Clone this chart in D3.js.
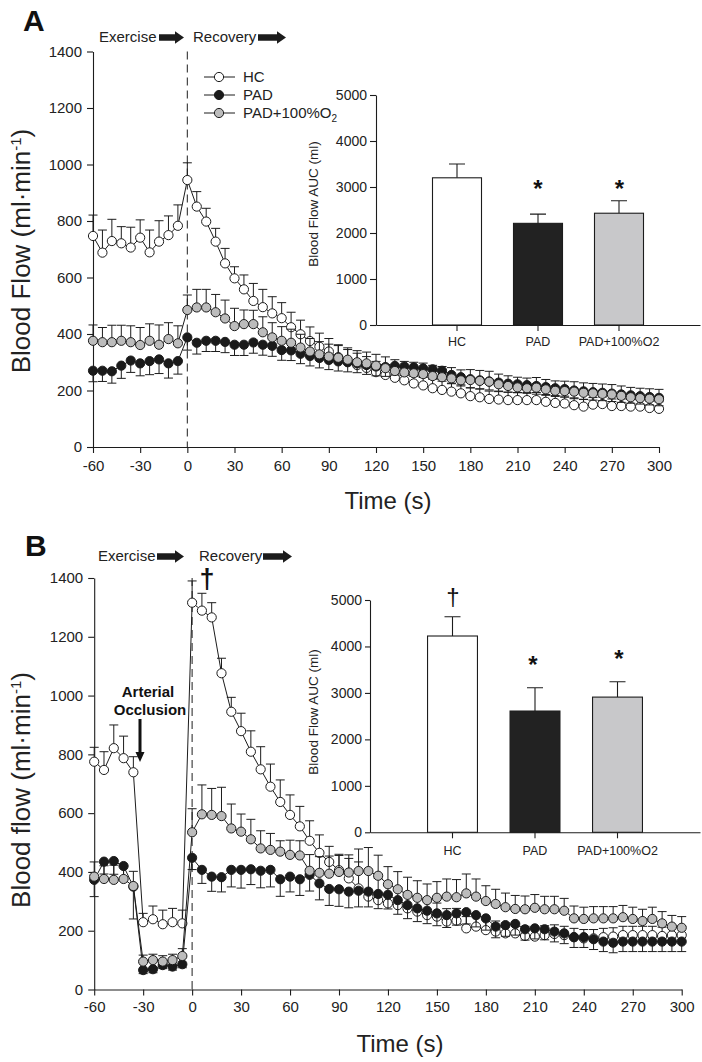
<!DOCTYPE html>
<html><head><meta charset="utf-8">
<script src="https://cdn.jsdelivr.net/npm/d3@7"></script>
<style>
body{margin:0;background:#fff;}
svg{display:block;font-family:"Liberation Sans",Arial,sans-serif;}
</style></head><body>
<svg id="c" width="702" height="1062"></svg>
<script>
// ---------------- DATA ----------------
const time = [-60,-54,-48,-42,-36,-30,-24,-18,-12,-6,0,6,12,18,24,30,36,42,48,54,60,66,72,78,84,90,96,102,108,114,120,126,132,138,144,150,156,162,168,174,180,186,192,198,204,210,216,222,228,234,240,246,252,258,264,270,276,282,288,294,300];
const xTicks = [-60,-30,0,30,60,90,120,150,180,210,240,270,300];
const yTicks = [0,200,400,600,800,1000,1200,1400];
const seriesNames = ["HC","PAD","PAD+100%O2"];

// Panel A (Blood Flow, ml/min)
const hcA = [747,688,729,721,706,741,689,727,750,783,945,
  851,798,727,650,597,558,517,495,473,456,
  424,399,375,355,338,318,302,290,280,265,
  255,245,236,225,218,208,202,196,190,180,
  176,170,168,166,166,166,166,160,156,154,
  148,143,150,152,145,145,143,143,138,135];
const hcAse = [74,80,77,59,72,63,79,74,68,74,61,
  53,47,47,53,41,51,62,63,59,55,
  53,50,50,48,46,44,43,42,40,38,
  37,36,35,34,33,32,31,30,30,29,
  29,28,28,28,27,27,27,26,26,26,
  26,25,25,25,25,25,25,25,25,25];
const padA = [270,270,268,288,306,296,304,310,296,304,388,
  369,376,376,372,362,362,370,362,358,343,
  342,330,322,315,308,303,300,296,290,285,
  283,287,285,282,278,275,270,255,247,240,
  236,232,228,224,222,219,216,212,208,205,
  200,197,194,192,189,186,183,180,177,174];
const padAse = [39,38,42,45,42,44,48,50,52,46,45,
  40,38,38,38,38,38,38,37,37,36,
  36,35,35,35,34,34,34,33,33,33,
  33,32,32,32,32,31,31,31,31,30,
  30,30,30,30,30,29,29,29,29,29,
  29,28,28,28,28,28,28,28,28,28];
const o2A = [376,371,371,376,371,361,376,362,382,367,485,
  494,494,477,455,428,435,435,406,388,376,
  369,352,338,328,320,316,309,300,296,288,
  279,269,264,261,258,251,247,243,236,237,
  234,231,222,216,211,208,210,204,199,198,
  196,192,190,188,186,181,176,173,171,169];
const o2Ase = [56,52,60,55,58,62,60,70,58,62,53,
  64,64,63,65,63,50,49,55,52,50,
  48,47,46,45,44,43,42,41,40,40,
  40,40,39,39,39,38,38,38,37,37,
  37,37,36,36,36,36,36,35,35,35,
  35,35,35,35,35,35,35,35,35,35];

// Panel B (Blood flow, ml/min) with arterial occlusion
const hcB = [775,747,821,787,739,229,239,222,229,225,1316,
  1289,1266,1076,945,879,809,749,690,638,594,
  555,506,465,434,406,378,344,316,304,293,
  287,276,265,253,248,231,234,208,214,202,
  197,191,191,182,180,185,189,185,178,174,
  174,178,180,185,185,185,185,182,185,185];
const hcBse = [49,62,79,75,53,30,45,48,47,45,74,
  59,50,51,49,61,71,77,77,75,68,
  68,68,61,53,50,68,90,85,75,65,
  60,55,50,48,46,44,42,40,40,38,
  36,35,34,33,32,32,31,30,30,30,
  30,30,30,30,30,30,30,30,30,30];
const padB = [373,435,437,420,350,66,69,83,78,86,448,
  407,384,382,407,407,409,404,407,375,384,
  375,390,361,342,341,333,336,333,325,322,
  304,287,276,268,259,253,259,263,253,242,
  214,219,223,205,208,205,197,191,178,178,
  171,163,159,163,163,163,163,163,163,163];
const padBse = [57,42,45,40,110,12,12,12,12,12,40,
  46,50,50,58,62,52,58,58,58,52,
  55,55,56,56,58,55,55,52,50,48,
  48,46,45,44,42,42,40,40,40,40,
  38,38,38,37,36,36,35,35,35,35,
  35,34,34,34,34,34,34,34,34,34];
const o2B = [384,376,373,376,352,95,100,95,100,114,535,
  596,594,590,548,537,511,480,475,469,458,
  456,404,397,394,400,398,403,403,387,358,
  341,322,312,304,312,316,314,327,316,301,
  291,280,274,273,278,273,273,268,242,240,
  242,242,242,246,240,233,240,225,214,210];
const o2Bse = [50,45,50,45,50,22,20,20,20,25,80,
  100,90,98,83,60,68,60,56,37,50,
  50,55,55,60,60,60,75,80,70,60,
  60,60,58,55,55,60,60,66,60,52,
  50,48,46,45,45,44,44,42,42,40,
  40,40,40,40,40,40,40,40,38,38];

// Insets: Blood Flow AUC (ml)
const aucCats = ["HC","PAD","PAD+100%O2"];
const aucTicks = [0,1000,2000,3000,4000,5000];
const aucA = [3200,2210,2430];
const aucAse = [300,200,270];
const aucAmarks = ["","*","*"];
const aucB = [4225,2610,2910];
const aucBse = [415,500,330];
const aucBmarks = ["\u2020","*","*"];

// ---------------- STYLE / LAYOUT ----------------
const INK = "#1c1c1c";
const fills = {HC:"#ffffff", PAD:"#1a1a1a", O2:"#bcbcbc"};
const barFills = ["#ffffff","#222222","#c8c8ca"];
const plainNum = d => String(d);
const svg = d3.select("#c");
svg.append("rect").attr("width",702).attr("height",1062).attr("fill","#fff");

const layout = {
  A: {x:[93,659], y:[447,51.5], letter:"A", letterPos:[23,31], ylabel:"Blood Flow", ylabPos:[30,251],
      headY:42, arrowY:37.5, exX:99, exArrow:[159,184], recX:193, recArrow:[258,286],
      timePos:[388,509], tickLabOff:13,
      inset:{x:[376,700], y:[325,95], labPos:[318,204], catLabY:346, tickSize:6, pad:3}},
  B: {x:[94.2,681.7], y:[989.5,578], letter:"B", letterPos:[25,556], ylabPos:[30,790], ylabel:"Blood flow",
      headY:561, arrowY:556.5, exX:98, exArrow:[157,184], recX:199, recArrow:[263,292],
      timePos:[400,1052], tickLabOff:12,
      inset:{x:[370,700], y:[832.3,600], labPos:[318,712], catLabY:855, tickSize:5, pad:3}}
};

function arrowRight(x0,x1,cy){
  const hl=9, sh=3.3, hh=6.2;
  svg.append("path").attr("fill",INK)
    .attr("d",`M${x0},${cy-sh}H${x1-hl}V${cy-hh}L${x1},${cy}L${x1-hl},${cy+hh}V${cy+sh}H${x0}Z`);
}

function drawPanel(L, data){
  const x = d3.scaleLinear().domain([-60,300]).range(L.x);
  const y = d3.scaleLinear().domain([0,1400]).range(L.y);
  const g = svg.append("g");

  const ax = g.append("g").attr("transform",`translate(0,${L.y[0]})`)
    .call(d3.axisBottom(x).tickValues(xTicks).tickFormat(plainNum).tickSize(6).tickSizeOuter(0).tickPadding(L.tickLabOff-6));
  const ay = g.append("g").attr("transform",`translate(${L.x[0]},0)`)
    .call(d3.axisLeft(y).tickValues(yTicks).tickFormat(plainNum).tickSize(6).tickSizeOuter(0).tickPadding(5));
  [ax,ay].forEach(a=>{
    a.selectAll("path,line").attr("stroke",INK).attr("stroke-width",1.1);
    a.selectAll("text").attr("fill","#222").style("font-size","15px").style("font-family","Liberation Sans, Arial, sans-serif");
  });

  g.append("line").attr("x1",x(0)).attr("x2",x(0)).attr("y1",y(1400)).attr("y2",y(0))
    .attr("stroke","#333").attr("stroke-width",1.1).attr("stroke-dasharray","8,5");

  data.forEach(s=>{
    const pts = time.map((t,i)=>({t, v:s.v[i], e:s.e[i]}));
    const sg = g.append("g");
    sg.selectAll("path.err").data(pts).enter().append("path").attr("class","err")
      .attr("fill","none").attr("stroke",INK).attr("stroke-width",1)
      .attr("d",d=>{const y0=y(d.v), y1=y(d.v + s.dir*d.e), xx=x(d.t);
        return `M${xx},${y0}V${y1}M${xx-4.5},${y1}H${xx+4.5}`;});
    sg.append("path").datum(pts).attr("fill","none").attr("stroke",INK).attr("stroke-width",1)
      .attr("d",d3.line().x(d=>x(d.t)).y(d=>y(d.v)));
    sg.selectAll("circle").data(pts).enter().append("circle")
      .attr("cx",d=>x(d.t)).attr("cy",d=>y(d.v)).attr("r",4.6)
      .attr("fill",s.fill).attr("stroke",INK).attr("stroke-width",1);
  });

  svg.append("text").attr("x",L.letterPos[0]).attr("y",L.letterPos[1]).text(L.letter)
    .style("font-size","30px").style("font-weight","bold").attr("fill","#111");
  const yl = svg.append("text").attr("transform",`translate(${L.ylabPos[0]},${L.ylabPos[1]}) rotate(-90)`)
    .attr("text-anchor","middle").style("font-size","26px").attr("fill","#222");
  yl.append("tspan").text(L.ylabel+" (ml\u00B7min");
  yl.append("tspan").attr("dy",-9).style("font-size","15px").text("-1");
  yl.append("tspan").attr("dy",9).text(")");
  svg.append("text").attr("x",L.timePos[0]).attr("y",L.timePos[1]).attr("text-anchor","middle")
    .style("font-size","24px").attr("fill","#222").text("Time (s)");

  svg.append("text").attr("x",L.exX).attr("y",L.headY).style("font-size","15px").attr("fill","#222").text("Exercise");
  arrowRight(L.exArrow[0],L.exArrow[1],L.arrowY);
  svg.append("text").attr("x",L.recX).attr("y",L.headY).style("font-size","15px").attr("fill","#222").text("Recovery");
  arrowRight(L.recArrow[0],L.recArrow[1],L.arrowY);
  return {x,y};
}

function drawInset(I, vals, ses, marks, markSpec){
  const x = d3.scaleBand().domain(aucCats).range(I.x).paddingInner(0.395).paddingOuter(0.6975);
  const y = d3.scaleLinear().domain([0,5000]).range(I.y);
  const g = svg.append("g");
  const ax = g.append("g").attr("transform",`translate(0,${I.y[0]})`)
    .call(d3.axisBottom(x).tickSize(6).tickSizeOuter(0).tickPadding(8));
  const ay = g.append("g").attr("transform",`translate(${I.x[0]},0)`)
    .call(d3.axisLeft(y).tickValues(aucTicks).tickFormat(plainNum).tickSize(I.tickSize).tickSizeOuter(0).tickPadding(I.pad));
  [ax,ay].forEach(a=>{
    a.selectAll("path,line").attr("stroke",INK).attr("stroke-width",1.1);
    a.selectAll("text").attr("fill","#222").style("font-family","Liberation Sans, Arial, sans-serif");
  });
  ay.selectAll("text").style("font-size","14px");
  ax.selectAll("text").style("font-size","12.5px").attr("dy",null)
    .attr("y",I.catLabY - I.y[0]);
  const rows = aucCats.map((c,i)=>({c,v:vals[i],e:ses[i],m:marks[i],i}));
  g.selectAll("path.eb").data(rows).enter().append("path").attr("class","eb")
    .attr("fill","none").attr("stroke",INK).attr("stroke-width",1.1)
    .attr("d",d=>{const cx=x(d.c)+x.bandwidth()/2, y0=y(d.v), y1=y(d.v+d.e);
      return `M${cx},${y0}V${y1}M${cx-8},${y1}H${cx+8}`;});
  g.selectAll("rect.bar").data(rows).enter().append("rect").attr("class","bar")
    .attr("x",d=>x(d.c)).attr("width",x.bandwidth())
    .attr("y",d=>y(d.v)).attr("height",d=>y(0)-y(d.v))
    .attr("fill",d=>barFills[d.i]).attr("stroke",INK).attr("stroke-width",1.1);
  rows.forEach(d=>{
    if(!d.m) return;
    const sp = markSpec[d.i];
    svg.append("text").attr("x",sp[0]).attr("y",sp[1]).attr("text-anchor","middle")
      .style("font-size",sp[2]+"px").style("font-weight",d.m==="*"?"bold":"normal")
      .style("fill","#111").text(d.m);
  });
  svg.append("text").attr("transform",`translate(${I.labPos[0]},${I.labPos[1]}) rotate(-90)`)
    .attr("text-anchor","middle").style("font-size","13.5px").attr("fill","#222").text("Blood Flow AUC (ml)");
}

// ---------------- DRAW ----------------
drawPanel(layout.A, [
  {v:hcA, e:hcAse, dir:1, fill:fills.HC},
  {v:padA, e:padAse, dir:-1, fill:fills.PAD},
  {v:o2A, e:o2Ase, dir:1, fill:fills.O2}
]);
drawPanel(layout.B, [
  {v:hcB, e:hcBse, dir:1, fill:fills.HC},
  {v:padB, e:padBse, dir:-1, fill:fills.PAD},
  {v:o2B, e:o2Bse, dir:1, fill:fills.O2}
]);

// legend (panel A)
const legY = [77,95,113];
const legFill = [fills.HC, fills.PAD, fills.O2];
seriesNames.forEach((n,i)=>{
  svg.append("line").attr("x1",204).attr("x2",235).attr("y1",legY[i]).attr("y2",legY[i]).attr("stroke",INK);
  svg.append("circle").attr("cx",219).attr("cy",legY[i]).attr("r",4.6).attr("fill",legFill[i]).attr("stroke",INK);
  const t = svg.append("text").attr("x",243).attr("y",legY[i]+5).style("font-size","15px").attr("fill","#222");
  if(n==="PAD+100%O2"){ t.append("tspan").text("PAD+100%O"); t.append("tspan").attr("dy",4).style("font-size","10px").text("2"); }
  else t.text(n);
});

// insets
drawInset(layout.A.inset, aucA, aucAse, aucAmarks, [null,[538,197,24],[619.5,197,24]]);
drawInset(layout.B.inset, aucB, aucBse, aucBmarks, [[453,605,24],[533,673,24],[619,667,24]]);

// panel B annotations
svg.append("text").attr("x",207).attr("y",588).attr("text-anchor","middle")
  .style("font-size","27px").style("font-weight","bold").style("fill","#111").text("\u2020");
svg.append("text").attr("x",148).attr("y",697).attr("text-anchor","middle")
  .style("font-size","15px").style("font-weight","bold").attr("fill","#111").text("Arterial");
svg.append("text").attr("x",150).attr("y",715).attr("text-anchor","middle")
  .style("font-size","15px").style("font-weight","bold").attr("fill","#111").text("Occlusion");
svg.append("path").attr("fill","#111")
  .attr("d","M138.5,719H141.5V752H144.5L140,762L135.5,752H138.5Z");
</script>
</body></html>
